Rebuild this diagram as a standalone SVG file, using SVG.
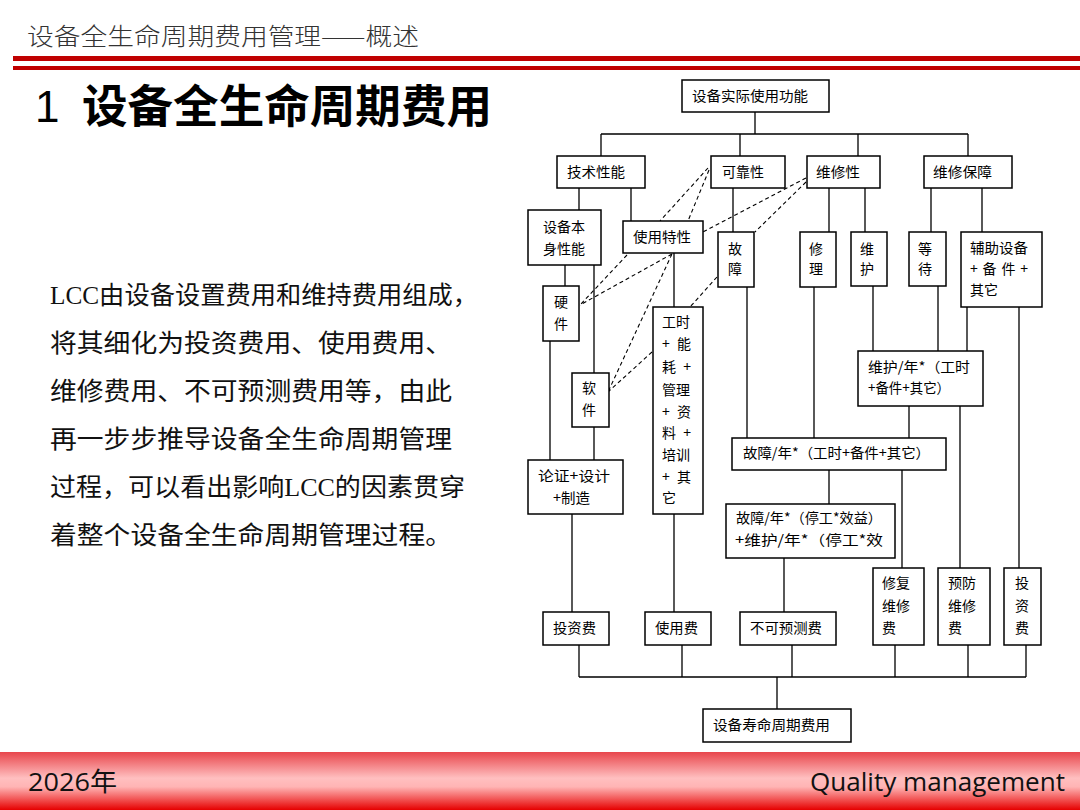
<svg xmlns="http://www.w3.org/2000/svg" width="1080" height="810" viewBox="0 0 1080 810">
<defs>
<linearGradient id="foot" x1="0" y1="0" x2="0" y2="1">
<stop offset="0" stop-color="#e8464c"/>
<stop offset="0.45" stop-color="#ffbfc0"/>
<stop offset="0.6" stop-color="#ffb4b4"/>
<stop offset="1" stop-color="#e60000"/>
</linearGradient>
<style>
.b{fill:#fff;stroke:#000;stroke-width:1.5}
.t{font-family:"Noto Sans CJK SC","Noto Sans",sans-serif;font-size:14px;fill:#000}
.c{stroke:#000;stroke-width:1.3;fill:none}
.d{stroke:#000;stroke-width:1.1;stroke-dasharray:4 3;fill:none}
.p{font-family:"Liberation Serif","Noto Sans CJK SC",serif;font-size:25px;fill:#111}
</style>
</defs>
<rect width="1080" height="810" fill="#fff"/>
<g id="header">
<text x="27" y="45" font-family="Noto Sans CJK SC, sans-serif" font-size="24" font-weight="300" fill="#333" textLength="392" lengthAdjust="spacingAndGlyphs">设备全生命周期费用管理——概述</text>
<rect x="13" y="56" width="1067" height="5" fill="#c00000"/>
<rect x="13" y="66" width="1067" height="4" fill="#c00000"/>
<text x="35" y="122" font-family="Liberation Sans, sans-serif" font-size="44" fill="#000">1</text>
<text x="82" y="123" font-family="Noto Sans CJK SC, sans-serif" font-size="45" font-weight="bold" fill="#000" textLength="410" lengthAdjust="spacingAndGlyphs">设备全生命周期费用</text>
</g>
<g id="paragraph">
<text class="p" x="50" y="304" textLength="428" lengthAdjust="spacingAndGlyphs">LCC由设备设置费用和维持费用组成，</text>
<text class="p" x="50" y="352" textLength="402" lengthAdjust="spacingAndGlyphs">将其细化为投资费用、使用费用、</text>
<text class="p" x="50" y="400" textLength="402" lengthAdjust="spacingAndGlyphs">维修费用、不可预测费用等，由此</text>
<text class="p" x="50" y="448" textLength="402" lengthAdjust="spacingAndGlyphs">再一步步推导设备全生命周期管理</text>
<text class="p" x="50" y="496" textLength="415" lengthAdjust="spacingAndGlyphs">过程，可以看出影响LCC的因素贯穿</text>
<text class="p" x="50" y="544" textLength="402" lengthAdjust="spacingAndGlyphs">着整个设备全生命周期管理过程。</text>
</g>
<g id="connectors">
<path class="c" d="M755 112V134M601 134H968M601 134V156M740 134V156M858 134V156M968 134V156"/>
<path class="c" d="M579 188V210M631 188V221M733 188V232M829 188V232M865 188V232M931 188V232M982 188V232"/>
<path class="c" d="M565 265V286M594 265V373M550 341V460M594 427V460M674 253V307"/>
<path class="c" d="M747 287V438M814 287V438M873 286V351M938 286V351M967 307V351M1019 307V568"/>
<path class="c" d="M909 406V438M960 406V568M829 470V504M902 470V568M784 558V612M572 514V612M674 514V612"/>
<path class="c" d="M579 645V677M682 645V677M792 645V677M895 645V677M968 645V677M1026 645V677M579 677H1026M777 677V709"/>
<path class="d" d="M708 168L660 221M709 170L688 221M806 178L703 232M806 182L755 232M627 255L580 305M672 254L580 305M672 254L608 392M652 352L608 392M717 277L690 307"/>
</g>
<g id="n-top"><rect class="b" x="682" y="80" width="147" height="32"/><text class="t" x="692" y="101" textLength="116" lengthAdjust="spacingAndGlyphs">设备实际使用功能</text></g>
<g id="n-jishu"><rect class="b" x="557" y="156" width="88" height="32"/><text class="t" x="567" y="177" textLength="58" lengthAdjust="spacingAndGlyphs">技术性能</text></g>
<g id="n-kekao"><rect class="b" x="711" y="156" width="74" height="32"/><text class="t" x="722" y="177" textLength="42" lengthAdjust="spacingAndGlyphs">可靠性</text></g>
<g id="n-weixiuxing"><rect class="b" x="807" y="156" width="73" height="32"/><text class="t" x="816" y="177" textLength="44" lengthAdjust="spacingAndGlyphs">维修性</text></g>
<g id="n-baozhang"><rect class="b" x="924" y="156" width="88" height="32"/><text class="t" x="933" y="177" textLength="59" lengthAdjust="spacingAndGlyphs">维修保障</text></g>
<g id="n-benshen"><rect class="b" x="528" y="210" width="73" height="55"/><text class="t" x="543" y="232">设备本</text><text class="t" x="543" y="254">身性能</text></g>
<g id="n-shiyong"><rect class="b" x="623" y="221" width="80" height="32"/><text class="t" x="633" y="242" textLength="58" lengthAdjust="spacingAndGlyphs">使用特性</text></g>
<g id="n-guzhang"><rect class="b" x="718" y="232" width="36" height="55"/><text class="t" x="728" y="254">故</text><text class="t" x="728" y="274">障</text></g>
<g id="n-xiuli"><rect class="b" x="800" y="232" width="36" height="55"/><text class="t" x="809" y="254">修</text><text class="t" x="809" y="274">理</text></g>
<g id="n-weihu"><rect class="b" x="851" y="232" width="36" height="54"/><text class="t" x="860" y="254">维</text><text class="t" x="860" y="274">护</text></g>
<g id="n-dengdai"><rect class="b" x="909" y="232" width="37" height="54"/><text class="t" x="918" y="254">等</text><text class="t" x="918" y="274">待</text></g>
<g id="n-fuzhu"><rect class="b" x="961" y="232" width="81" height="75"/><text class="t" x="970" y="253" textLength="58" lengthAdjust="spacingAndGlyphs">辅助设备</text><text class="t" x="970" y="274" textLength="58" lengthAdjust="spacing">+ 备 件 +</text><text class="t" x="970" y="295">其它</text></g>
<g id="n-yingjian"><rect class="b" x="543" y="286" width="36" height="55"/><text class="t" x="554" y="307">硬</text><text class="t" x="554" y="329">件</text></g>
<g id="n-ruanjian"><rect class="b" x="572" y="373" width="37" height="54"/><text class="t" x="582" y="393">软</text><text class="t" x="582" y="415">件</text></g>
<g id="n-gongshi"><rect class="b" x="653" y="307" width="50" height="207"/>
<text class="t" x="662" y="327">工时</text>
<text class="t" x="662" y="349" textLength="29" lengthAdjust="spacing">+ 能</text>
<text class="t" x="662" y="372" textLength="29" lengthAdjust="spacing">耗 +</text>
<text class="t" x="662" y="395">管理</text>
<text class="t" x="662" y="417" textLength="29" lengthAdjust="spacing">+ 资</text>
<text class="t" x="662" y="438" textLength="29" lengthAdjust="spacing">料 +</text>
<text class="t" x="662" y="460">培训</text>
<text class="t" x="662" y="482" textLength="29" lengthAdjust="spacing">+ 其</text>
<text class="t" x="662" y="503">它</text></g>
<g id="n-lunzheng"><rect class="b" x="528" y="460" width="95" height="54"/><text class="t" x="538" y="481" textLength="72" lengthAdjust="spacingAndGlyphs">论证+设计</text><text class="t" x="553" y="503" textLength="37" lengthAdjust="spacingAndGlyphs">+制造</text></g>
<g id="n-weihunian"><rect class="b" x="858" y="351" width="125" height="55"/><text class="t" x="868" y="372" textLength="102" lengthAdjust="spacingAndGlyphs">维护/年*（工时</text><text class="t" x="868" y="393" textLength="82" lengthAdjust="spacingAndGlyphs">+备件+其它）</text></g>
<g id="n-guzhangnian1"><rect class="b" x="732" y="438" width="214" height="32"/><text class="t" x="743" y="458" textLength="187" lengthAdjust="spacingAndGlyphs">故障/年*（工时+备件+其它）</text></g>
<g id="n-guzhangnian2"><rect class="b" x="726" y="504" width="169" height="54"/><text class="t" x="736" y="523" textLength="146" lengthAdjust="spacingAndGlyphs">故障/年*（停工*效益）</text><text class="t" x="735" y="545" textLength="148" lengthAdjust="spacingAndGlyphs">+维护/年*（停工*效</text></g>
<g id="n-touzi"><rect class="b" x="543" y="612" width="66" height="33"/><text class="t" x="553" y="633" textLength="43" lengthAdjust="spacingAndGlyphs">投资费</text></g>
<g id="n-shiyongfei"><rect class="b" x="645" y="612" width="66" height="33"/><text class="t" x="655" y="633" textLength="43" lengthAdjust="spacingAndGlyphs">使用费</text></g>
<g id="n-bukeyuce"><rect class="b" x="740" y="612" width="96" height="33"/><text class="t" x="750" y="633" textLength="72" lengthAdjust="spacingAndGlyphs">不可预测费</text></g>
<g id="n-xiufu"><rect class="b" x="873" y="568" width="51" height="77"/><text class="t" x="882" y="588">修复</text><text class="t" x="882" y="611">维修</text><text class="t" x="882" y="633">费</text></g>
<g id="n-yufang"><rect class="b" x="938" y="568" width="52" height="77"/><text class="t" x="948" y="588">预防</text><text class="t" x="948" y="611">维修</text><text class="t" x="948" y="633">费</text></g>
<g id="n-touzi2"><rect class="b" x="1004" y="568" width="37" height="77"/><text class="t" x="1015" y="588">投</text><text class="t" x="1015" y="611">资</text><text class="t" x="1015" y="633">费</text></g>
<g id="n-bottom"><rect class="b" x="703" y="709" width="148" height="33"/><text class="t" x="713" y="730" textLength="117" lengthAdjust="spacingAndGlyphs">设备寿命周期费用</text></g>
<g id="footer">
<rect x="0" y="752" width="1080" height="58" fill="url(#foot)"/>
<text x="28" y="791" font-family="Open Sans, Noto Sans CJK SC, sans-serif" font-size="26" fill="#111" textLength="89" lengthAdjust="spacingAndGlyphs">2026年</text>
<text x="810" y="791" font-family="Open Sans, sans-serif" font-size="26" fill="#111" textLength="255" lengthAdjust="spacingAndGlyphs">Quality management</text>
</g>
</svg>
